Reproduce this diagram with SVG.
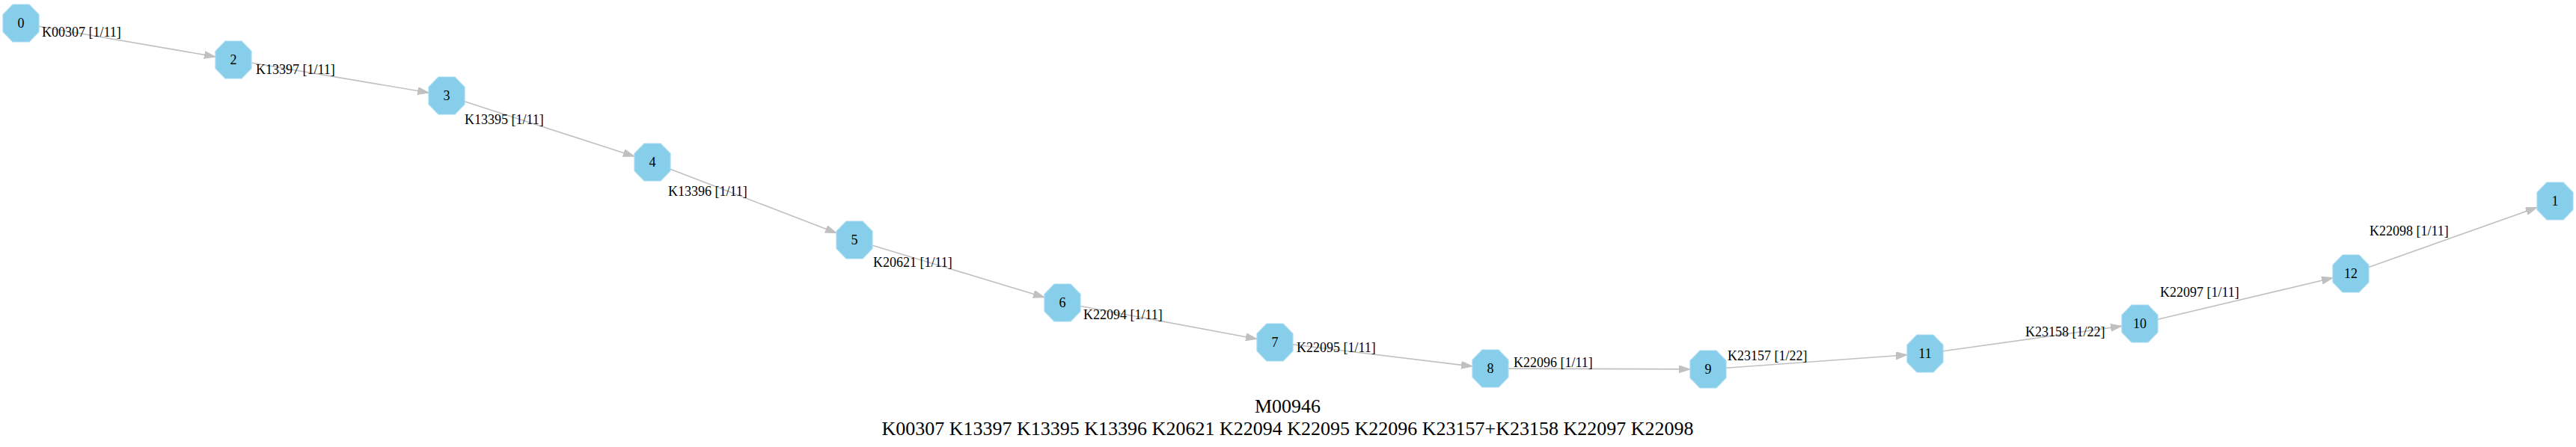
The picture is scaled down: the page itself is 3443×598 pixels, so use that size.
<svg xmlns="http://www.w3.org/2000/svg" width="3443" height="598" viewBox="0 0 3443 598">
<style>
.n use{fill:#87ceeb;stroke:#a6daf0;stroke-width:1.2}
.n text{font-family:"Liberation Serif","Times New Roman",serif;font-size:18px;text-anchor:middle;fill:#000}
#edges line{stroke:#c0c0c0;stroke-width:1.6;fill:none}
.el{font-family:"Liberation Serif","Times New Roman",serif;font-size:18px;fill:#000}
.title{font-family:"Liberation Serif","Times New Roman",serif;font-size:26px;text-anchor:middle;fill:#000}
</style>
<defs>
<polygon id="oct" points="-11,-25 11,-25 24,-11.5 24,11.5 11,25 -11,25 -24,11.5 -24,-11.5"/>
<marker id="arr" markerUnits="userSpaceOnUse" markerWidth="17" markerHeight="12" refX="15" refY="5" orient="auto" viewBox="0 0 17 12">
<path d="M0,0 L15,5 L0,10 z" fill="#c0c0c0" stroke="#c0c0c0" stroke-width="1"/>
</marker>
</defs>
<rect width="3443" height="598" fill="#fff"/>
<g id="edges">
<line x1="52" y1="35.2" x2="288" y2="75.9" marker-end="url(#arr)"/>
<line x1="336" y1="84" x2="573" y2="124" marker-end="url(#arr)"/>
<line x1="621" y1="135.8" x2="848" y2="209.2" marker-end="url(#arr)"/>
<line x1="896" y1="226.2" x2="1118" y2="311.8" marker-end="url(#arr)"/>
<line x1="1166" y1="328.3" x2="1396" y2="397.7" marker-end="url(#arr)"/>
<line x1="1444" y1="409.5" x2="1680" y2="453.5" marker-end="url(#arr)"/>
<line x1="1728" y1="460.9" x2="1968" y2="490.1" marker-end="url(#arr)"/>
<line x1="2016" y1="493.1" x2="2259" y2="493.9" marker-end="url(#arr)"/>
<line x1="2307" y1="492.3" x2="2549" y2="474.7" marker-end="url(#arr)"/>
<line x1="2597" y1="469.7" x2="2836" y2="436.3" marker-end="url(#arr)"/>
<line x1="2884" y1="427.3" x2="3118" y2="371.7" marker-end="url(#arr)"/>
<line x1="3166" y1="357.5" x2="3391" y2="277.5" marker-end="url(#arr)"/>
<text class="el" x="56" y="49">K00307 [1/11]</text>
<text class="el" x="342" y="99">K13397 [1/11]</text>
<text class="el" x="621" y="166">K13395 [1/11]</text>
<text class="el" x="893" y="262">K13396 [1/11]</text>
<text class="el" x="1167" y="357">K20621 [1/11]</text>
<text class="el" x="1448" y="427">K22094 [1/11]</text>
<text class="el" x="1733" y="471">K22095 [1/11]</text>
<text class="el" x="2023" y="491">K22096 [1/11]</text>
<text class="el" x="2309" y="482">K23157 [1/22]</text>
<text class="el" x="2707" y="450">K23158 [1/22]</text>
<text class="el" x="2887" y="397">K22097 [1/11]</text>
<text class="el" x="3167" y="315">K22098 [1/11]</text>
</g>
<g id="node0" class="n" transform="translate(28,31)"><use href="#oct"/><text y="6">0</text></g>
<g id="node2" class="n" transform="translate(312,80)"><use href="#oct"/><text y="6">2</text></g>
<g id="node3" class="n" transform="translate(597,128)"><use href="#oct"/><text y="6">3</text></g>
<g id="node4" class="n" transform="translate(872,217)"><use href="#oct"/><text y="6">4</text></g>
<g id="node5" class="n" transform="translate(1142,321)"><use href="#oct"/><text y="6">5</text></g>
<g id="node6" class="n" transform="translate(1420,405)"><use href="#oct"/><text y="6">6</text></g>
<g id="node7" class="n" transform="translate(1704,458)"><use href="#oct"/><text y="6">7</text></g>
<g id="node8" class="n" transform="translate(1992,493)"><use href="#oct"/><text y="6">8</text></g>
<g id="node9" class="n" transform="translate(2283,494)"><use href="#oct"/><text y="6">9</text></g>
<g id="node11" class="n" transform="translate(2573,473)"><use href="#oct"/><text y="6">11</text></g>
<g id="node10" class="n" transform="translate(2860,433)"><use href="#oct"/><text y="6">10</text></g>
<g id="node12" class="n" transform="translate(3142,366)"><use href="#oct"/><text y="6">12</text></g>
<g id="node1" class="n" transform="translate(3415,269)"><use href="#oct"/><text y="6">1</text></g>
<g id="title">
<text class="title" x="1721" y="552">M00946</text>
<text class="title" x="1721" y="582">K00307 K13397 K13395 K13396 K20621 K22094 K22095 K22096 K23157+K23158 K22097 K22098</text>
</g>
</svg>
